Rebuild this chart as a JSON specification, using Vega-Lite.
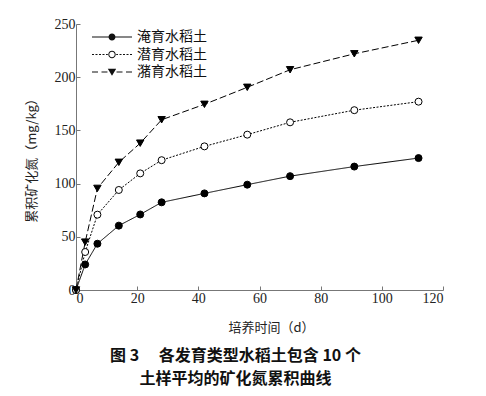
{
  "$schema": "https://vega.github.io/schema/vega-lite/v6.json",
  "width": 367,
  "height": 266,
  "autosize": {"type": "none"},
  "padding": {"left": 76, "top": 24, "right": 43, "bottom": 106},
  "background": "white",
  "config": {
    "view": {"stroke": null},
    "axis": {
      "grid": false,
      "domainColor": "#777",
      "tickColor": "#777",
      "tickSize": -4,
      "labelFont": "Liberation Serif",
      "labelFontSize": 14,
      "labelColor": "#222",
      "labelPadding": 5,
      "titleFont": "Noto Sans CJK SC",
      "titleFontSize": 13,
      "titleFontWeight": "normal",
      "titleColor": "#222"
    }
  },
  "title": {
    "text": ["图 3　 各发育类型水稻土包含 10 个", "土样平均的矿化氮累积曲线"],
    "orient": "bottom",
    "anchor": "middle",
    "dx": -24,
    "offset": 14,
    "font": "Noto Sans CJK SC",
    "fontSize": 16,
    "fontWeight": "bold",
    "lineHeight": 23,
    "color": "#111"
  },
  "data": {
    "values": [
      {"t": 0, "n": 0, "soil": "淹育水稻土"},
      {"t": 3, "n": 24, "soil": "淹育水稻土"},
      {"t": 7, "n": 43.5, "soil": "淹育水稻土"},
      {"t": 14, "n": 60.5, "soil": "淹育水稻土"},
      {"t": 21, "n": 71, "soil": "淹育水稻土"},
      {"t": 28, "n": 82.4, "soil": "淹育水稻土"},
      {"t": 42, "n": 90.8, "soil": "淹育水稻土"},
      {"t": 56, "n": 99, "soil": "淹育水稻土"},
      {"t": 70, "n": 107, "soil": "淹育水稻土"},
      {"t": 91, "n": 116, "soil": "淹育水稻土"},
      {"t": 112, "n": 124, "soil": "淹育水稻土"},
      {"t": 0, "n": 0, "soil": "潜育水稻土"},
      {"t": 3, "n": 35.7, "soil": "潜育水稻土"},
      {"t": 7, "n": 70.8, "soil": "潜育水稻土"},
      {"t": 14, "n": 94, "soil": "潜育水稻土"},
      {"t": 21, "n": 109.6, "soil": "潜育水稻土"},
      {"t": 28, "n": 122, "soil": "潜育水稻土"},
      {"t": 42, "n": 135, "soil": "潜育水稻土"},
      {"t": 56, "n": 146, "soil": "潜育水稻土"},
      {"t": 70, "n": 157.6, "soil": "潜育水稻土"},
      {"t": 91, "n": 169, "soil": "潜育水稻土"},
      {"t": 112, "n": 177, "soil": "潜育水稻土"},
      {"t": 0, "n": 0, "soil": "潴育水稻土"},
      {"t": 3, "n": 45, "soil": "潴育水稻土"},
      {"t": 7, "n": 95.5, "soil": "潴育水稻土"},
      {"t": 14, "n": 120, "soil": "潴育水稻土"},
      {"t": 21, "n": 138, "soil": "潴育水稻土"},
      {"t": 28, "n": 160, "soil": "潴育水稻土"},
      {"t": 42, "n": 174.5, "soil": "潴育水稻土"},
      {"t": 56, "n": 190.5, "soil": "潴育水稻土"},
      {"t": 70, "n": 207, "soil": "潴育水稻土"},
      {"t": 91, "n": 222, "soil": "潴育水稻土"},
      {"t": 112, "n": 234.7, "soil": "潴育水稻土"}
    ]
  },
  "encoding": {
    "x": {
      "field": "t",
      "type": "quantitative",
      "scale": {"domain": [0, 120], "nice": false},
      "axis": {"title": "培养时间（d）", "values": [0, 20, 40, 60, 80, 100, 120], "titlePadding": 16, "titleX": 195}
    },
    "y": {
      "field": "n",
      "type": "quantitative",
      "scale": {"domain": [0, 250], "nice": false},
      "axis": {"title": "累积矿化氮（mg/kg）", "values": [0, 50, 100, 150, 200, 250], "titlePadding": 16}
    }
  },
  "layer": [
    {
      "mark": {"type": "point", "filled": true, "strokeWidth": 0, "size": 196, "opacity": 0},
      "encoding": {
        "shape": {
          "field": "soil",
          "type": "nominal",
          "scale": {
            "domain": ["淹育水稻土", "潜育水稻土", "潴育水稻土"],
            "range": [
              "M-2.86,-0.07H-0.45V0.07H-2.86ZM0.45,-0.07H2.86V0.07H0.45ZM0.5,0A0.5,0.5 0 1,1 -0.5,0A0.5,0.5 0 1,1 0.5,0Z",
              "M-2.86,-0.07H-2.57V0.07H-2.86ZM-2.36,-0.07H-2.07V0.07H-2.36ZM-1.86,-0.07H-1.57V0.07H-1.86ZM-1.36,-0.07H-1.07V0.07H-1.36ZM-0.86,-0.07H-0.6V0.07H-0.86ZM0.6,-0.07H0.86V0.07H0.6ZM1.07,-0.07H1.36V0.07H1.07ZM1.57,-0.07H1.86V0.07H1.57ZM2.07,-0.07H2.36V0.07H2.07ZM2.57,-0.07H2.86V0.07H2.57ZM0.53,0A0.53,0.53 0 1,1 -0.53,0A0.53,0.53 0 1,1 0.53,0ZM0.39,0A0.39,0.39 0 1,0 -0.39,0A0.39,0.39 0 1,0 0.39,0Z",
              "M-2.86,-0.07H-2.0V0.07H-2.86ZM-1.5,-0.07H-0.65V0.07H-1.5ZM0.65,-0.07H1.5V0.07H0.65ZM2.0,-0.07H2.86V0.07H2.0ZM-0.6,-0.45H0.6L0,0.55Z"
            ]
          },
          "legend": {
            "title": null,
            "orient": "none",
            "legendX": 29,
            "legendY": 6,
            "padding": 0,
            "symbolSize": 196,
            "symbolOpacity": 1,
            "labelOffset": 18,
            "labelFont": "Noto Sans CJK SC",
            "labelFontSize": 14,
            "labelColor": "#111",
            "rowPadding": 3.5,
            "symbolStrokeWidth": 0
          }
        },
        "fill": {
          "field": "soil",
          "type": "nominal",
          "scale": {"domain": ["淹育水稻土", "潜育水稻土", "潴育水稻土"], "range": ["#111", "#111", "#111"]},
          "legend": {
            "title": null,
            "orient": "none",
            "legendX": 29,
            "legendY": 6,
            "padding": 0,
            "symbolSize": 196,
            "symbolOpacity": 1,
            "labelOffset": 18,
            "labelFont": "Noto Sans CJK SC",
            "labelFontSize": 14,
            "labelColor": "#111",
            "rowPadding": 3.5,
            "symbolStrokeWidth": 0
          }
        }
      }
    },
    {
      "mark": {"type": "line", "color": "black", "strokeWidth": 1},
      "encoding": {
        "strokeDash": {
          "field": "soil",
          "type": "nominal",
          "scale": {"domain": ["淹育水稻土", "潜育水稻土", "潴育水稻土"], "range": [[1, 0], [2, 1.5], [7, 3]]},
          "legend": null
        }
      }
    },
    {
      "transform": [{"filter": "datum.soil === '淹育水稻土'"}],
      "mark": {"type": "point", "shape": "circle", "filled": true, "fill": "black", "stroke": "black", "strokeWidth": 1, "size": 49, "opacity": 1}
    },
    {
      "transform": [{"filter": "datum.soil === '潜育水稻土'"}],
      "mark": {"type": "point", "shape": "circle", "filled": true, "fill": "white", "stroke": "black", "strokeWidth": 1, "size": 49, "opacity": 1}
    },
    {
      "transform": [{"filter": "datum.soil === '潴育水稻土'"}],
      "mark": {"type": "point", "shape": "triangle-down", "filled": true, "fill": "black", "stroke": "black", "strokeWidth": 1, "size": 55, "opacity": 1}
    }
  ]
}
